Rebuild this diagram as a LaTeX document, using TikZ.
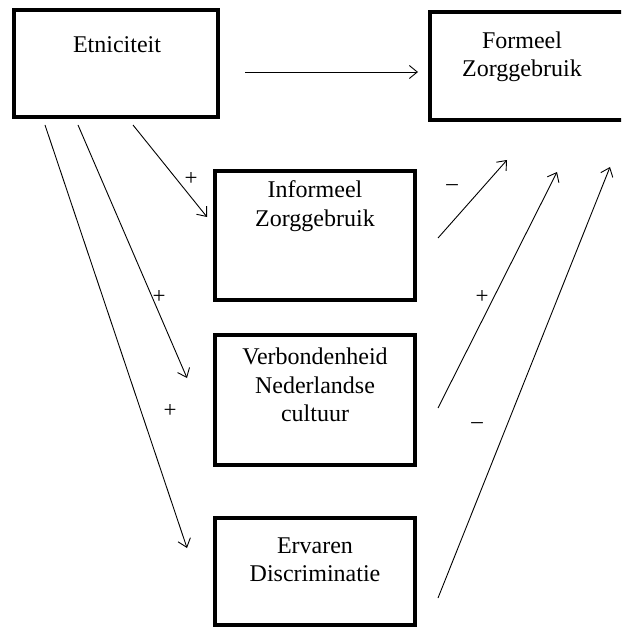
\documentclass[tikz,border=0pt]{standalone}
\usepackage{fontspec}
\setmainfont{Liberation Serif}
\usetikzlibrary{arrows.meta}
\begin{document}
\begin{tikzpicture}[x=1pt,y=-1pt,
  box/.style={draw=black,line width=4.4pt,inner sep=0pt},
  lbl/.style={font=\fontsize{24}{28.5}\selectfont,align=center,inner sep=0pt},
  sgn/.style={font=\fontsize{23}{24}\selectfont,inner sep=0pt},
  conn/.style={line width=0.9pt,-{Straight Barb[length=8pt,width=13pt,line width=0.9pt]}}]
\useasboundingbox (0,0) rectangle (621,628);
\begin{scope}
\clip (0,0) rectangle (621,628);
% boxes
\node[box,minimum width=204pt,minimum height=107pt] (etn) at (116,63.5) {};
\node[box,minimum width=196pt,minimum height=108pt] (form) at (528,66) {};
\node[box,minimum width=200pt,minimum height=129pt] (inf) at (315,235.5) {};
\node[box,minimum width=200pt,minimum height=130pt] (verb) at (315,400) {};
\node[box,minimum width=200pt,minimum height=107pt] (erv) at (315,571.5) {};
\end{scope}
% texts
\node[lbl] (tetn) at (117,45) {Etniciteit};
\node[lbl] (tform) at (522,57) {Formeel\\Zorggebruik};
\node[lbl] (tinf) at (315,206) {Informeel\\Zorggebruik};
\node[lbl] (tverb) at (315,385) {Verbondenheid\\Nederlandse\\cultuur};
\node[lbl] (terv) at (315,560) {Ervaren\\Discriminatie};
% connector ends
\coordinate (h1) at (245,72);
\coordinate (h2) at (418,72);
\coordinate (a1s) at (133,125);
\coordinate (a1e) at (207,217);
\coordinate (a2s) at (78,125);
\coordinate (a2e) at (187,378);
\coordinate (a3s) at (45,125);
\coordinate (a3e) at (187,548);
\coordinate (b1s) at (438,238);
\coordinate (b1e) at (507,160);
\coordinate (b2s) at (438,408);
\coordinate (b2e) at (557,172);
\coordinate (b3s) at (438,598);
\coordinate (b3e) at (610,167);
% connectors
\draw[conn] (h1) -- (h2);
\draw[conn] (a1s) -- (a1e);
\draw[conn] (a2s) -- (a2e);
\draw[conn] (a3s) -- (a3e);
\draw[conn] (b1s) -- (b1e);
\draw[conn] (b2s) -- (b2e);
\draw[conn] (b3s) -- (b3e);
% signs
\node[sgn] (p1) at (191,179) {+};
\node[sgn] (p2) at (159,297) {+};
\node[sgn] (p3) at (170,411) {+};
\node[sgn] (m1) at (452,188) {\textendash};
\node[sgn] (p4) at (482,297) {+};
\node[sgn] (m2) at (477,426) {\textendash};
\end{tikzpicture}
\end{document}
